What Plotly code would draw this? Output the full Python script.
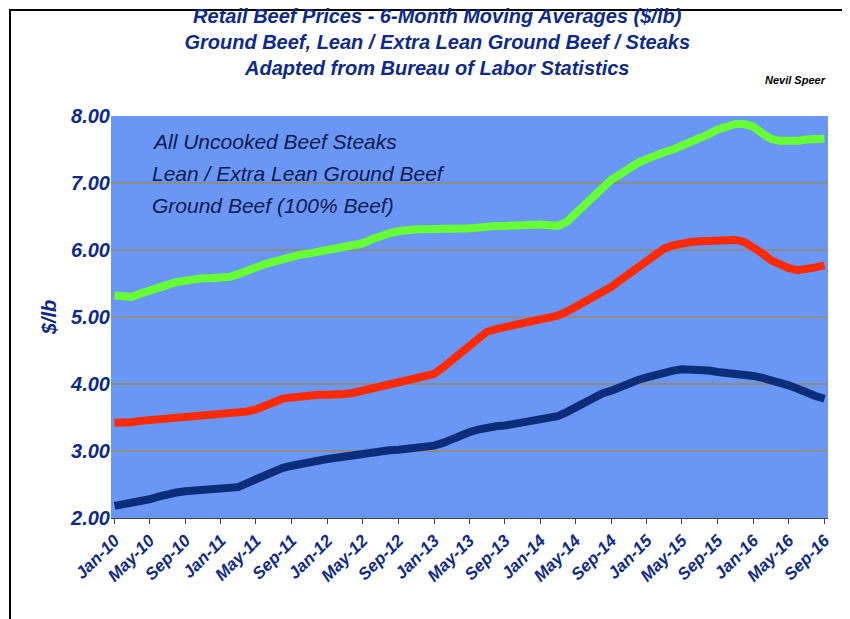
import plotly.graph_objects as go
import pandas as pd

months = pd.date_range("2010-01-01", "2016-09-01", freq="MS")
steaks = [5.32,5.30,5.30,5.35,5.40,5.44,5.48,5.52,5.55,5.57,5.58,5.58,
          5.58,5.60,5.64,5.68,5.74,5.79,5.83,5.86,5.90,5.93,5.95,5.97,
          6.00,6.02,6.04,6.06,6.10,6.16,6.21,6.25,6.28,6.30,6.31,6.31,
          6.32,6.32,6.32,6.32,6.32,6.34,6.35,6.36,6.36,6.37,6.38,6.38,
          6.38,6.37,6.36,6.42,6.55,6.68,6.82,6.95,7.05,7.13,7.22,7.30,
          7.36,7.42,7.46,7.50,7.55,7.60,7.66,7.73,7.80,7.85,7.88,7.88,
          7.84,7.74,7.66,7.63,7.62,7.63,7.65,7.66,7.66]
lean = [3.42,3.42,3.43,3.45,3.46,3.47,3.49,3.51,3.52,3.53,3.55,3.56,
        3.56,3.56,3.57,3.59,3.62,3.68,3.74,3.78,3.80,3.82,3.83,3.84,
        3.84,3.84,3.85,3.87,3.90,3.94,3.98,4.02,4.05,4.08,4.10,4.12,
        4.15,4.25,4.35,4.45,4.58,4.70,4.78,4.82,4.85,4.86,4.88,4.92,
        4.95,4.98,5.02,5.08,5.15,5.22,5.30,5.37,5.45,5.55,5.65,5.75,
        5.85,5.95,6.02,6.07,6.10,6.12,6.13,6.14,6.15,6.16,6.15,6.12,
        6.05,5.95,5.85,5.78,5.73,5.70,5.71,5.74,5.77]
ground = [2.18,2.20,2.22,2.25,2.28,2.32,2.36,2.38,2.40,2.41,2.42,2.43,
          2.43,2.44,2.46,2.52,2.58,2.64,2.70,2.75,2.78,2.81,2.84,2.86,
          2.88,2.90,2.92,2.95,2.97,2.99,3.00,3.01,3.02,3.03,3.05,3.07,
          3.08,3.12,3.18,3.24,3.28,3.32,3.35,3.37,3.38,3.40,3.43,3.46,
          3.48,3.49,3.52,3.58,3.65,3.72,3.80,3.86,3.90,3.96,4.02,4.06,
          4.10,4.14,4.18,4.20,4.22,4.22,4.21,4.20,4.18,4.17,4.16,4.14,
          4.12,4.09,4.06,4.02,3.98,3.93,3.87,3.82,3.78]
names = ["All Uncooked Beef Steaks", "Lean / Extra Lean Ground Beef", "Ground Beef (100% Beef)"]
colors = ["#66FF33", "#FF2A00", "#0B2E7A"]
yticks = [2, 3, 4, 5, 6, 7, 8]

navy = "#0E2A8A"
fig = go.Figure()
for s, n, c in zip([steaks, lean, ground], names, colors):
    fig.add_trace(go.Scatter(x=months, y=s, mode="lines", name=n,
                             line=dict(color=c, width=8), showlegend=False))
for i, n in enumerate(names):
    fig.add_annotation(x=0.055, y=0.97 - i*0.08, xref="paper", yref="paper",
                       text=f"<i>{n}</i>", showarrow=False, xanchor="left",
                       font=dict(family="Arial", size=21, color="#0A1A50"))
tickvals = months[::4]
fig.update_layout(
    width=850, height=619, paper_bgcolor="white", plot_bgcolor="#6A97F5",
    margin=dict(l=103, r=30, t=108, b=109),
    title=dict(text="<b><i>Retail Beef Prices - 6-Month Moving Averages ($/lb)<br>Ground Beef, Lean / Extra Lean Ground Beef / Steaks<br>Adapted from Bureau of Labor Statistics</i></b>",
               x=0.505, xanchor="center", y=0.975, yanchor="top",
               font=dict(family="Arial", size=20, color=navy)),
    xaxis=dict(tickvals=tickvals, ticktext=[f"<b><i>{d.strftime('%b-%y')}</i></b>" for d in tickvals],
               tickangle=-45, showgrid=False, range=[months[0] - pd.Timedelta(days=12), months[-1] + pd.Timedelta(days=12)],
               tickfont=dict(family="Arial", size=17, color=navy), ticks="outside", linecolor="#444"),
    yaxis=dict(range=[2, 8], tickvals=yticks, ticktext=[f"<b><i>{v:.2f}</i></b>" for v in yticks],
               gridcolor="#8C8C8C", gridwidth=1.5,
               tickfont=dict(family="Arial", size=20, color=navy),
               title=dict(text="<b><i>$/lb</i></b>", font=dict(family="Arial", size=20, color=navy), standoff=8)),
    shapes=[dict(type="rect", xref="paper", yref="paper", x0=-101/717, x1=1+28/717, y0=-107/402, y1=1+106/402,
                 line=dict(color="black", width=2))],
)
fig.add_annotation(x=1.0, y=1.11, xref="paper", yref="paper", text="<b><i>Nevil Speer</i></b>",
                   showarrow=False, xanchor="right", font=dict(family="Arial", size=11, color="black"))
fig.write_html("out.html")
